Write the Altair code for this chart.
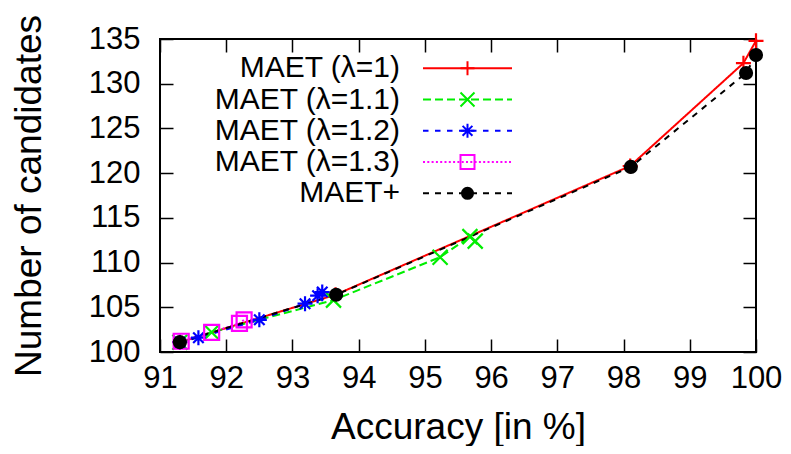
import altair as alt
import pandas as pd

# ---------------- data ----------------
series_names = ["MAET (λ=1)", "MAET (λ=1.1)", "MAET (λ=1.2)", "MAET (λ=1.3)", "MAET+"]
series_colors = ["#ff0000", "#00ee00", "#0000ff", "#ff00ff", "#000000"]

acc_l10 = [91.3, 93.65, 98.1, 99.81, 100.0]
cand_l10 = [101.1, 106.4, 120.8, 132.3, 134.8]
acc_l11 = [91.3, 91.78, 93.62, 95.23, 95.68, 95.76]
cand_l11 = [101.1, 102.2, 105.8, 110.6, 112.9, 112.4]
acc_l12 = [91.3, 91.58, 92.5, 93.19, 93.38, 93.45]
cand_l12 = [101.1, 101.6, 103.6, 105.4, 106.3, 106.7]
acc_l13 = [91.32, 91.78, 92.2, 92.27]
cand_l13 = [101.2, 102.2, 103.2, 103.6]
acc_plus = [91.3, 93.66, 98.11, 99.85, 100.0]
cand_plus = [101.1, 106.4, 120.7, 131.2, 133.2]

x_ticks = [91, 92, 93, 94, 95, 96, 97, 98, 99, 100]
y_ticks = [100, 105, 110, 115, 120, 125, 130, 135]

rows = []
for name, accs, cands in zip(series_names,
                             [acc_l10, acc_l11, acc_l12, acc_l13, acc_plus],
                             [cand_l10, cand_l11, cand_l12, cand_l13, cand_plus]):
    for a, c in zip(accs, cands):
        rows.append({"series": name, "acc": a, "cand": c})
df = pd.DataFrame(rows)
legend_df = pd.DataFrame({"series": series_names})

# ---------------- styling ----------------
W, H = 596, 313
FONT = "Liberation Sans"
TICK = 13

# axes are pulled inside the frame by the tick length so that ticks point inward
try:
    alt.Axis(offset=-TICK)
    INSET = -TICK
except Exception:
    INSET = alt.ExprRef(expr=str(-TICK))

line_dashes = [[1, 0], [8, 4], [5.5, 6.5], [2, 2.3], [6, 6]]
marker_shapes = [
    "M-1,0L1,0M0,-1L0,1",                                          # plus
    "M-1,-1L1,1M-1,1L1,-1",                                        # cross
    "M-1,0L1,0M0,-1L0,1M-0.7,-0.7L0.7,0.7M-0.7,0.7L0.7,-0.7",      # asterisk
    "M-1,-1L1,-1L1,1L-1,1Z",                                       # open square
    "circle",
]

xscale = alt.Scale(domain=[91, 100], nice=False, zero=False)
yscale = alt.Scale(domain=[100, 135], nice=False, zero=False)
color_scale = alt.Scale(domain=series_names, range=series_colors)
dash_scale = alt.Scale(domain=series_names, range=line_dashes)
shape_scale = alt.Scale(domain=series_names, range=marker_shapes)
legend_row_scale = alt.Scale(type="point", domain=series_names, range=[29.3, 154.3], padding=0)

tick_style = dict(offset=INSET, tickSize=TICK, tickWidth=1.5, tickColor="black",
                  domain=False, grid=False)
common_axis = dict(labelOverlap=False, labelFlush=False, labelFontSize=31, titleFontSize=37,
                   labelFont=FONT, titleFont=FONT, titleFontWeight="normal",
                   labelColor="black", titleColor="black", **tick_style)

xaxis = alt.Axis(values=x_ticks, format="d", title="Accuracy [in %]",
                 labelPadding=11, titlePadding=16, **common_axis)
yaxis = alt.Axis(values=y_ticks, format="d", title="Number of candidates",
                 labelPadding=20, titlePadding=40, **common_axis)
xaxis_top = alt.Axis(values=x_ticks, orient="top", labels=False, title=None, **tick_style)
yaxis_right = alt.Axis(values=y_ticks, orient="right", labels=False, title=None, **tick_style)

X = alt.X("acc:Q", scale=xscale, axis=None)
Y = alt.Y("cand:Q", scale=yscale, axis=None)
COLOR = alt.Color("series:N", scale=color_scale, legend=None)

lines = alt.Chart(df).mark_line(strokeWidth=2).encode(
    x=alt.X("acc:Q", scale=xscale, axis=xaxis),
    y=alt.Y("cand:Q", scale=yscale, axis=yaxis),
    color=COLOR,
    strokeDash=alt.StrokeDash("series:N", scale=dash_scale, legend=None),
)

# invisible layer that carries the mirrored (top / right) tick axes
mirror = alt.Chart(df).mark_point(opacity=0).encode(
    x=alt.X("acc:Q", scale=xscale, axis=xaxis_top),
    y=alt.Y("cand:Q", scale=yscale, axis=yaxis_right),
)

hollow_pts = alt.Chart(df).transform_filter(
    alt.datum.series != "MAET+"
).mark_point(size=225, filled=False, strokeWidth=2.2, opacity=1).encode(
    x=X, y=Y, color=COLOR,
    shape=alt.Shape("series:N", scale=shape_scale, legend=None),
)

dots = alt.Chart(df).transform_filter(
    alt.datum.series == "MAET+"
).mark_point(size=200, filled=True, shape="circle", opacity=1).encode(
    x=X, y=Y, color=COLOR,
)

# ---- legend (inside the plot, rows placed by a point scale) ----
LY = alt.Y("series:N", scale=legend_row_scale, axis=None)

leg_lines = alt.Chart(legend_df).mark_rule(strokeWidth=2).encode(
    x=alt.value(263), x2=alt.value(352), y=LY, color=COLOR,
    strokeDash=alt.StrokeDash("series:N", scale=dash_scale, legend=None),
)
leg_hollow = alt.Chart(legend_df).transform_filter(
    alt.datum.series != "MAET+"
).mark_point(size=196, filled=False, strokeWidth=2, opacity=1).encode(
    x=alt.value(307.5), y=LY, color=COLOR,
    shape=alt.Shape("series:N", scale=shape_scale, legend=None),
)
leg_dot = alt.Chart(legend_df).transform_filter(
    alt.datum.series == "MAET+"
).mark_point(size=170, filled=True, shape="circle", opacity=1).encode(
    x=alt.value(307.5), y=LY, color=COLOR,
)
leg_text = alt.Chart(legend_df).mark_text(
    align="right", baseline="middle", font=FONT, fontSize=30, color="black"
).encode(
    x=alt.value(240), y=LY, text="series:N",
)

chart = alt.layer(
    lines, mirror, hollow_pts, dots,
    leg_lines, leg_hollow, leg_dot, leg_text,
).resolve_scale(
    x="independent", y="independent"
).properties(
    width=W, height=H,
    autosize=alt.AutoSizeParams(type="none"),
    padding={"left": 152, "top": 31, "right": 27, "bottom": 94},
    background="white",
).configure_view(stroke="black", strokeWidth=2)

chart.save("out.html", embed_options={"renderer": "svg", "actions": False})
